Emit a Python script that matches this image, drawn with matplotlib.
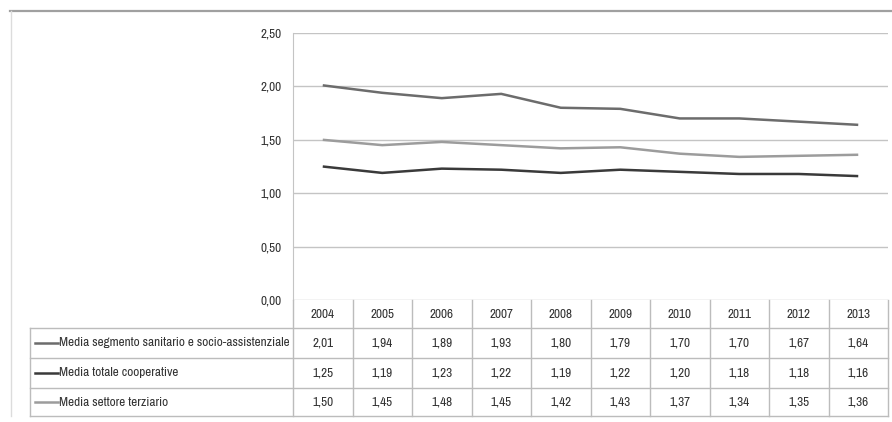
import matplotlib
matplotlib.use("Agg")
import matplotlib.pyplot as plt
from matplotlib.transforms import blended_transform_factory
from matplotlib.lines import Line2D

plt.rcParams['font.family'] = ['Archivo Narrow', 'Carlito', 'DejaVu Sans']

years = ["2004", "2005", "2006", "2007", "2008", "2009", "2010", "2011", "2012", "2013"]
series_names = [
    "Media segmento sanitario e socio-assistenziale",
    "Media totale cooperative",
    "Media settore terziario",
]
sanitario = [2.01, 1.94, 1.89, 1.93, 1.80, 1.79, 1.70, 1.70, 1.67, 1.64]
totale = [1.25, 1.19, 1.23, 1.22, 1.19, 1.22, 1.20, 1.18, 1.18, 1.16]
terziario = [1.50, 1.45, 1.48, 1.45, 1.42, 1.43, 1.37, 1.34, 1.35, 1.36]
y_ticks = [0.0, 0.5, 1.0, 1.5, 2.0, 2.5]

series = [sanitario, totale, terziario]
colors = ["#6c6c6c", "#3a3a3a", "#9c9c9c"]
text_color = "#333333"
fs = 9.5

W, H = 892, 422
fig = plt.figure(figsize=(W / 100, H / 100), dpi=100)

def fy(py):
    return 1 - py / H

def fx(px):
    return px / W

def comma(v):
    return f"{v:.2f}".replace(".", ",")

# plot area
ax = fig.add_axes([fx(293), fy(300), fx(888) - fx(293), fy(33) - fy(300)])
x = list(range(len(years)))
for vals, c in zip(series, colors):
    ax.plot(x, vals, color=c, lw=1.8, solid_capstyle="butt")
ax.set_xlim(-0.5, len(years) - 0.5)
ax.set_ylim(0, 2.5)
ax.set_yticks(y_ticks)
ax.set_yticklabels([comma(v) for v in y_ticks], fontsize=fs, color=text_color)
ax.tick_params(axis="y", length=0, pad=8)
ax.set_xticks([])
ax.grid(axis="y", color="#c4c4c4", lw=1.0)
for s in ["top", "right", "bottom"]:
    ax.spines[s].set_visible(False)
ax.spines["left"].set_color("#c4c4c4")
ax.set_axisbelow(True)

# data table below the plot: x in data coords, y in figure coords
tr = blended_transform_factory(ax.transData, fig.transFigure)
line_kw = dict(color="#bcbcbc", lw=1.0)

row_edges = [300, 328, 358, 388, 416]
label_left = 30

# horizontal rules
for py in row_edges[1:]:
    fig.add_artist(Line2D([fx(label_left), fx(888)], [fy(py), fy(py)], **line_kw))
# vertical rules
fig.add_artist(Line2D([fx(label_left), fx(label_left)], [fy(328), fy(416)], **line_kw))
for i in range(len(years) + 1):
    xb = i - 0.5
    fig.add_artist(Line2D([xb, xb], [fy(300), fy(416)], transform=tr, **line_kw))

# year row
for i, yr in enumerate(years):
    fig.text(i, fy(315), yr, transform=tr, ha="center", va="center", fontsize=fs, color=text_color)

# value rows with legend keys
for r, (name, vals, c) in enumerate(zip(series_names, series, colors)):
    yc = (row_edges[r + 1] + row_edges[r + 2]) / 2
    fig.add_artist(Line2D([fx(35), fx(58)], [fy(yc), fy(yc)], color=c, lw=1.8))
    fig.text(fx(59), fy(yc), name, ha="left", va="center", fontsize=fs, color=text_color)
    for i, v in enumerate(vals):
        fig.text(i, fy(yc), comma(v), transform=tr,
                 ha="center", va="center", fontsize=fs, color=text_color)

# outer frame
fig.add_artist(Line2D([fx(10), fx(892)], [fy(11), fy(11)], color="#a0a0a0", lw=1.6))
fig.add_artist(Line2D([fx(11), fx(11)], [fy(11), fy(416)], color="#dcdcdc", lw=1.0))

fig.savefig("out.png", dpi=100)
